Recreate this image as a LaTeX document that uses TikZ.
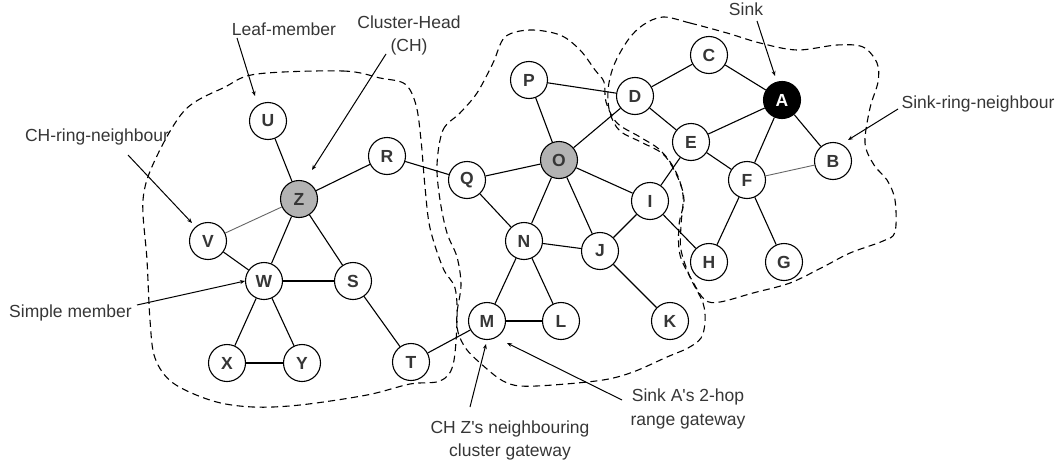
\documentclass[tikz,border=0pt]{standalone}
\usepackage{fontspec}
\setmainfont{Liberation Sans}[Ligatures=TeXOff]
\usetikzlibrary{arrows.meta}
\definecolor{txt}{HTML}{363636}
\definecolor{chfill}{HTML}{B3B3B3}
\definecolor{ringedge}{HTML}{666666}
\tikzset{
  vtx/.style={circle, draw=black, line width=1.1pt, minimum size=37pt, inner sep=0pt, fill=white,
    text=txt, font=\bfseries\fontsize{17.5}{17.5}\selectfont},
  chvtx/.style={vtx, fill=chfill},
  sinkvtx/.style={vtx, fill=black, text=white},
  link/.style={line width=1.1pt, black},
  ringlink/.style={line width=0.9pt, ringedge},
  cluster/.style={dashed, dash pattern=on 7pt off 4.5pt, line width=1.1pt, black},
  lbl/.style={text=txt, font=\fontsize{17.5}{23.5}\selectfont, inner sep=0pt, align=center},
  pointer/.style={line width=1pt, black, -{Stealth[length=5pt,width=4pt]}}
}
\begin{document}
\begin{tikzpicture}[x=1pt,y=-1pt]
\useasboundingbox (0,0) rectangle (1059,463);
% clusters
\draw[cluster] plot[smooth cycle, tension=0.55] coordinates {(257,74) (343,71) (380,78) (405,84) (416,105) (421,140) (425,187) (430,228) (443,268) (455,288) (457,320) (453,365) (440,381) (410,384) (367,395) (300,405) (253,407) (213,401) (173,383) (155,358) (150,320) (147,260) (143,200) (155,160) (185,110) (225,87)};
\draw[cluster] plot[smooth cycle, tension=0.55] coordinates {(437,165) (443,130) (460,113) (477,93) (493,63) (505,37) (530,30) (560,35) (580,50) (595,70) (604,82) (606,102) (617,123) (640,137) (660,150) (675,170) (683,195) (681,225) (681,250) (690,277) (703,303) (705,322) (701,338) (688,348) (667,357) (633,372) (603,380) (553,385) (520,386) (503,381) (487,369) (467,350) (458,332) (457,313) (461,285) (457,257) (447,233) (440,200)};
\draw[cluster] plot[smooth cycle, tension=0.55] coordinates {(663,17) (690,23) (727,33) (760,43) (797,50) (837,45) (863,47) (877,63) (878,82) (870,108) (865,143) (874,165) (887,180) (895,200) (895,232) (883,241) (850,253) (823,267) (790,283) (753,293) (720,302) (705,300) (693,282) (680,255) (679,225) (684,200) (678,178) (664,155) (643,143) (620,131) (610,113) (608,90) (614,65) (628,40) (643,25)};
% nodes
\node[vtx] (U) at (268,121) {U};
\node[chvtx] (Z) at (299,199) {Z};
\node[vtx] (R) at (387,156) {R};
\node[vtx] (V) at (208,241) {V};
\node[vtx] (W) at (264,281) {W};
\node[vtx] (S) at (353,281) {S};
\node[vtx] (X) at (227,363) {X};
\node[vtx] (Y) at (302,363) {Y};
\node[vtx] (T) at (411,362) {T};
\node[vtx] (Q) at (467,180) {Q};
\node[vtx] (P) at (529,80) {P};
\node[chvtx] (O) at (559,160) {O};
\node[vtx] (N) at (524,241) {N};
\node[vtx] (J) at (600,251) {J};
\node[vtx] (I) at (650,201) {I};
\node[vtx] (M) at (487,321) {M};
\node[vtx] (L) at (561,321) {L};
\node[vtx] (K) at (670,321) {K};
\node[vtx] (D) at (635,96) {D};
\node[vtx] (C) at (709,55) {C};
\node[vtx] (E) at (691,142) {E};
\node[sinkvtx] (A) at (782,100) {A};
\node[vtx] (B) at (833,161) {B};
\node[vtx] (F) at (747,180) {F};
\node[vtx] (H) at (709,262) {H};
\node[vtx] (G) at (784,262) {G};
% edges
\draw[link] (U) -- (Z);
\draw[link] (Z) -- (R);
\draw[ringlink] (Z) -- (V);
\draw[link] (Z) -- (W);
\draw[link] (Z) -- (S);
\draw[link] (V) -- (W);
\draw[link] (W) -- (S);
\draw[link] (W) -- (X);
\draw[link] (W) -- (Y);
\draw[link] (X) -- (Y);
\draw[link] (S) -- (T);
\draw[link] (T) -- (M);
\draw[link] (R) -- (Q);
\draw[link] (Q) -- (O);
\draw[link] (Q) -- (N);
\draw[link] (O) -- (P);
\draw[link] (O) -- (D);
\draw[link] (O) -- (N);
\draw[link] (O) -- (J);
\draw[link] (O) -- (I);
\draw[link] (P) -- (D);
\draw[link] (D) -- (C);
\draw[link] (D) -- (E);
\draw[link] (C) -- (A);
\draw[link] (E) -- (A);
\draw[link] (E) -- (F);
\draw[link] (E) -- (I);
\draw[link] (A) -- (F);
\draw[link] (A) -- (B);
\draw[ringlink] (F) -- (B);
\draw[link] (F) -- (H);
\draw[link] (F) -- (G);
\draw[link] (I) -- (H);
\draw[link] (I) -- (J);
\draw[link] (N) -- (J);
\draw[link] (N) -- (M);
\draw[link] (N) -- (L);
\draw[link] (M) -- (L);
\draw[link] (J) -- (K);
% labels (base = baseline of the last line)
\node[lbl, anchor=base] (leaf) at (284,35.5) {Leaf-member};
\node[lbl, anchor=base] (chead) at (409,51.5) {Cluster-Head\\(CH)};
\node[lbl, anchor=base] (ring) at (97,141.5) {CH-ring-neighbour};
\node[lbl, anchor=base] (simple) at (70.5,317) {Simple member};
\node[lbl, anchor=base] (sink) at (746,15.5) {Sink};
\node[lbl, anchor=base] (sring) at (978,108.5) {Sink-ring-neighbour};
\node[lbl, anchor=base] (twohop) at (688,425) {Sink A's 2-hop\\range gateway};
\node[lbl, anchor=base] (nbgw) at (510,456.5) {CH Z's neighbouring\\cluster gateway};
% pointer coordinates
\coordinate (leafS) at (237,38);  \coordinate (leafE) at (255,96);
\coordinate (chS) at (386,54);    \coordinate (chE) at (312,170);
\coordinate (ringS) at (128,155); \coordinate (ringE) at (192,223);
\coordinate (simS) at (137,305);  \coordinate (simE) at (245,281);
\coordinate (sinkS) at (757,21);  \coordinate (sinkE) at (775,76);
\coordinate (srS) at (898,109);   \coordinate (srE) at (848,140);
\coordinate (thS) at (622,400);   \coordinate (thE) at (507,343);
\coordinate (gwS) at (470,407);   \coordinate (gwE) at (486,344);
\draw[pointer] (leafS) -- (leafE);
\draw[pointer] (chS) -- (chE);
\draw[pointer] (ringS) -- (ringE);
\draw[pointer] (simS) -- (simE);
\draw[pointer] (sinkS) -- (sinkE);
\draw[pointer] (srS) -- (srE);
\draw[pointer] (thS) -- (thE);
\draw[pointer] (gwS) -- (gwE);
\end{tikzpicture}
\end{document}
